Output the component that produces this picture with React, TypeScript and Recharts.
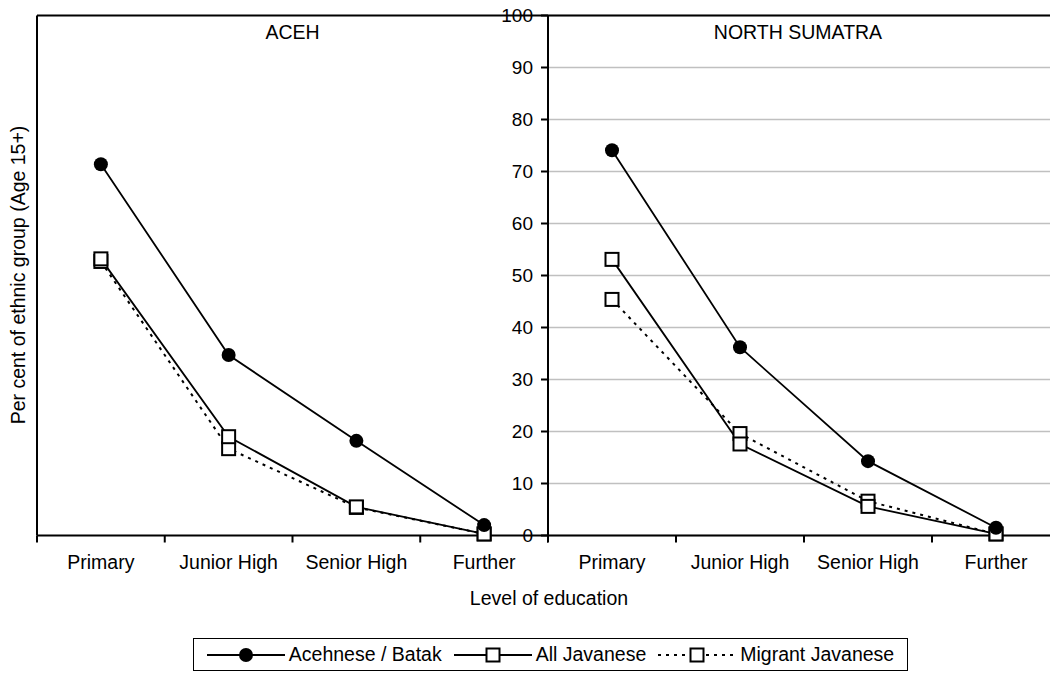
import React from 'react';
import { LineChart, Line, XAxis, YAxis, CartesianGrid, ReferenceLine } from 'recharts';

const categories = ['Primary', 'Junior High', 'Senior High', 'Further'];
const panelTitles = ['ACEH', 'NORTH SUMATRA'];
const seriesNames = ['Acehnese / Batak', 'All Javanese', 'Migrant Javanese'];

const acehIndigenous = [71.4, 34.7, 18.2, 2.0];
const acehAllJavanese = [53.2, 19.0, 5.5, 0.3];
const acehMigrantJavanese = [52.7, 16.7, 5.4, 0.3];

const nsIndigenous = [74.1, 36.2, 14.3, 1.5];
const nsAllJavanese = [53.1, 17.6, 5.6, 0.3];
const nsMigrantJavanese = [45.4, 19.6, 6.6, 0.3];

const yTicks = [0, 10, 20, 30, 40, 50, 60, 70, 80, 90, 100];
const xLabelTicks = [0.5, 1.5, 2.5, 3.5];
const xBoundaryTicks = [0, 1, 2, 3, 4];

const FONT = "'Liberation Sans', Arial, Helvetica, sans-serif";
const CH = 577.5;

function buildRows(main: number[], all: number[], mig: number[]) {
  return categories.map((c, i) => ({ x: i + 0.5, cat: c, main: main[i], all: all[i], mig: mig[i] }));
}

const acehRows = buildRows(acehIndigenous, acehAllJavanese, acehMigrantJavanese);
const nsRows = buildRows(nsIndigenous, nsAllJavanese, nsMigrantJavanese);

const CircleDot = (props: any) => {
  const { cx, cy } = props;
  if (cx == null || cy == null) return <g />;
  return <circle cx={cx} cy={cy} r={7} fill="#000" />;
};

const SquareDot = (props: any) => {
  const { cx, cy } = props;
  if (cx == null || cy == null) return <g />;
  return <rect x={cx - 6.5} y={cy - 6.5} width={13} height={13} fill="#fff" stroke="#000" strokeWidth={2} />;
};

const EmptyTick = () => <g />;

type PanelProps = { rows: any[]; title: string; left: number; width: number; yAxisWidth: number; showYLabels: boolean; titleDx: number };

const Panel = ({ rows, title, left, width, yAxisWidth, showYLabels, titleDx }: PanelProps) => (
  <div style={{ position: 'absolute', left, top: 0 }}>
    <LineChart width={width} height={CH} data={rows} margin={{ top: 15.5, right: 0, left: 0, bottom: 0 }} style={{ overflow: 'visible' }}>
      <CartesianGrid horizontal vertical={false} stroke="#c0c0c0" strokeWidth={1.4} horizontalValues={yTicks} />
      <XAxis
        xAxisId="axA"
        type="number"
        dataKey="x"
        domain={[0, 4]}
        ticks={xBoundaryTicks}
        interval={0}
        tick={EmptyTick}
        tickSize={7}
        height={1}
        axisLine={{ stroke: '#000', strokeWidth: 2 }}
        tickLine={{ stroke: '#000', strokeWidth: 2 }}
      />
      <XAxis
        xAxisId="axB"
        type="number"
        dataKey="x"
        domain={[0, 4]}
        ticks={xLabelTicks}
        interval={0}
        tickFormatter={(v: number) => categories[Math.floor(v)]}
        axisLine={false}
        tickLine={false}
        tickSize={0}
        tickMargin={19}
        height={41}
        tick={{ fill: '#000', fontSize: 19.5 }}
      />
      <YAxis
        type="number"
        domain={[0, 100]}
        ticks={yTicks}
        interval={0}
        width={yAxisWidth}
        tick={showYLabels ? { fill: '#000', fontSize: 19 } : false}
        tickLine={showYLabels ? { stroke: '#000', strokeWidth: 2 } : false}
        tickSize={7}
        tickMargin={8}
        axisLine={{ stroke: '#000', strokeWidth: 2 }}
      />
      <ReferenceLine
        y={100}
        xAxisId="axB"
        stroke="#000"
        strokeWidth={2}
        label={{ value: title, position: 'bottom', offset: 10, fill: '#000', fontSize: 19.5, dx: titleDx }}
      />
      <Line xAxisId="axB" type="linear" dataKey="mig" stroke="#000" strokeWidth={2} strokeDasharray="3 5" dot={SquareDot} activeDot={false} isAnimationActive={false} />
      <Line xAxisId="axB" type="linear" dataKey="all" stroke="#000" strokeWidth={1.8} dot={SquareDot} activeDot={false} isAnimationActive={false} />
      <Line xAxisId="axB" type="linear" dataKey="main" stroke="#000" strokeWidth={1.8} dot={CircleDot} activeDot={false} isAnimationActive={false} />
    </LineChart>
  </div>
);

const LegendSample = ({ kind }: { kind: number }) => (
  <svg width={78} height={20} style={{ display: 'block' }}>
    <line x1={0} y1={10} x2={78} y2={10} stroke="#000" strokeWidth={1.8} strokeDasharray={kind === 2 ? '3 5' : undefined} />
    {kind === 0 ? (
      <circle cx={39} cy={10} r={7} fill="#000" />
    ) : (
      <rect x={32.5} y={3.5} width={13} height={13} fill="#fff" stroke="#000" strokeWidth={2} />
    )}
  </svg>
);

export default function App() {
  return (
    <div style={{ position: 'relative', width: 1050, height: 673, overflow: 'hidden', fontFamily: FONT, color: '#000' }}>
      <style>{'body{margin:0;}'}</style>
      <Panel rows={acehRows} title={panelTitles[0]} left={0} width={548} yAxisWidth={37} showYLabels={false} titleDx={0} />
      <Panel rows={nsRows} title={panelTitles[1]} left={488} width={572} yAxisWidth={60} showYLabels={true} titleDx={-6} />
      <div
        style={{
          position: 'absolute',
          left: 17.5,
          top: 275,
          transform: 'translate(-50%, -50%) rotate(180deg)',
          writingMode: 'vertical-rl',
          whiteSpace: 'nowrap',
          fontSize: 19.5,
        }}
      >
        Per cent of ethnic group (Age 15+)
      </div>
      <div
        style={{
          position: 'absolute',
          left: 549,
          top: 598,
          transform: 'translate(-50%, -50%)',
          whiteSpace: 'nowrap',
          fontSize: 19.5,
        }}
      >
        Level of education
      </div>
      <div
        style={{
          position: 'absolute',
          left: 193,
          top: 638,
          width: 715,
          height: 33,
          boxSizing: 'border-box',
          border: '1px solid #000',
          display: 'flex',
          alignItems: 'center',
          justifyContent: 'center',
          fontSize: 19.5,
        }}
      >
        {seriesNames.map((n, i) => (
          <div key={n} style={{ display: 'flex', alignItems: 'center', marginRight: i < 2 ? 12 : 0 }}>
            <LegendSample kind={i} />
            <span style={{ marginLeft: 4, whiteSpace: 'nowrap' }}>{n}</span>
          </div>
        ))}
      </div>
    </div>
  );
}
